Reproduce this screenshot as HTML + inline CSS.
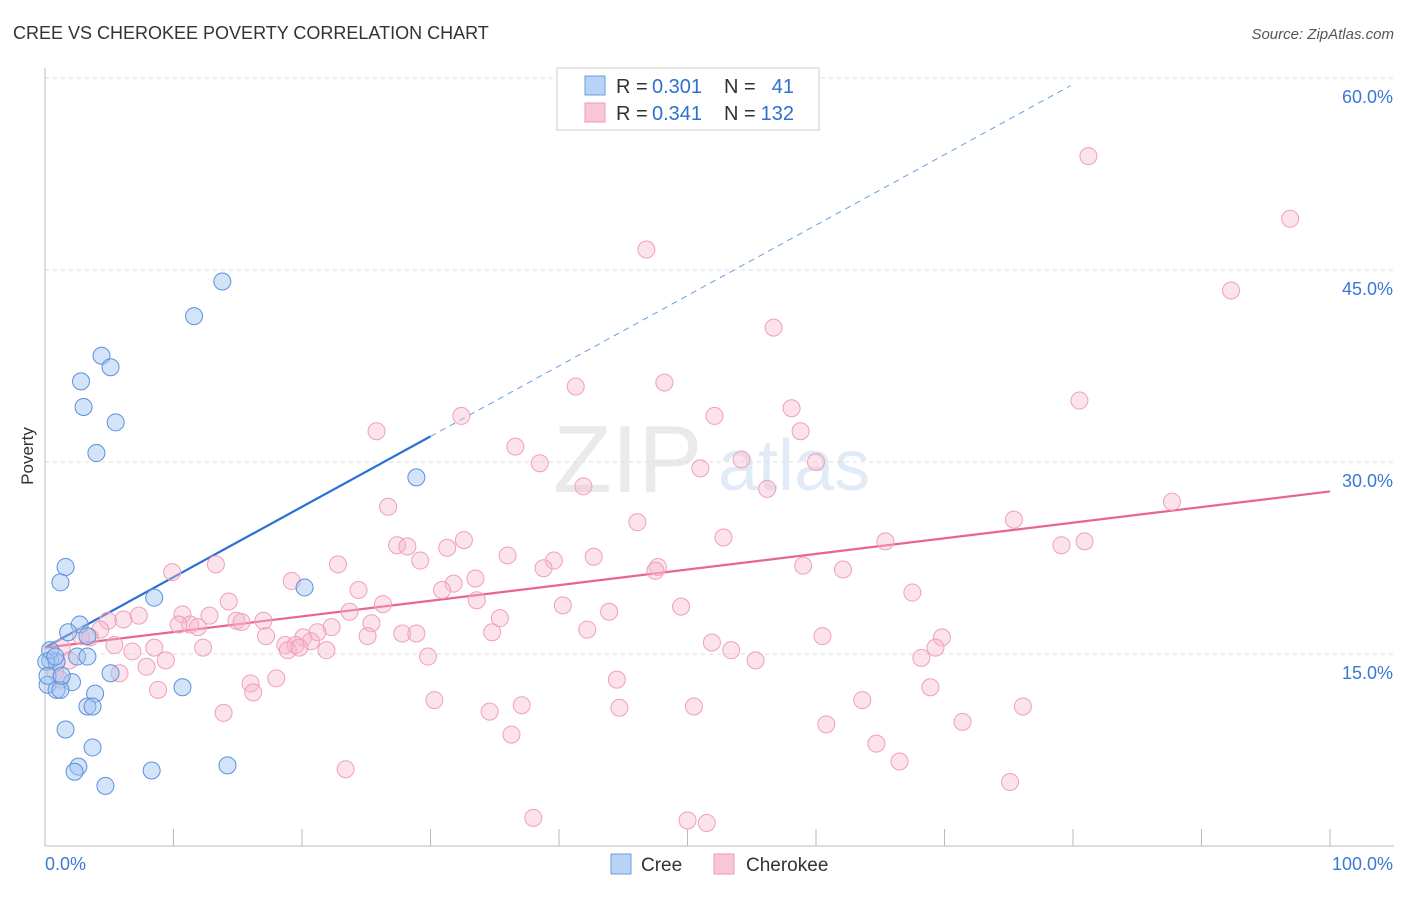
<!DOCTYPE html>
<html><head><meta charset="utf-8"><style>
body{margin:0;background:#fff;font-family:"Liberation Sans",sans-serif}
svg text{font-family:"Liberation Sans",sans-serif}
</style></head><body>
<svg id="chart" width="1406" height="892" viewBox="0 0 1406 892" xmlns="http://www.w3.org/2000/svg">
<text x="13" y="39" font-size="18" fill="#333">CREE VS CHEROKEE POVERTY CORRELATION CHART</text>
<text x="1394" y="39" font-size="15" fill="#555" text-anchor="end" font-style="italic">Source: ZipAtlas.com</text>
<g opacity="0.3">
<text x="553" y="492" font-size="96" font-family="Liberation Serif" fill="#bbb">ZIP</text>
<text x="718" y="490" font-size="72" fill="#9fc0ea">atlas</text>
</g>
<g id="grid"></g><g id="axes"></g><g id="trends"></g><g id="points"></g>
<text transform="translate(33,456) rotate(-90)" font-size="17" fill="#333" text-anchor="middle">Poverty</text>
<g>
<rect x="557" y="68" width="262" height="62" fill="#fff" stroke="#ccc"/>
<rect x="585" y="76" width="20" height="19" fill="#b8d3f5" stroke="#6a9ee0"/>
<text x="616" y="93" font-size="20" fill="#333">R = </text>
<text x="652" y="93" font-size="20" fill="#2f6fd1">0.301</text>
<text x="724" y="93" font-size="20" fill="#333">N =</text>
<text x="794" y="93" font-size="20" fill="#2f6fd1" text-anchor="end">41</text>
<rect x="585" y="103" width="20" height="19" fill="#f9c6d5" stroke="#ef9ab5"/>
<text x="616" y="120" font-size="20" fill="#333">R = </text>
<text x="652" y="120" font-size="20" fill="#2f6fd1">0.341</text>
<text x="724" y="120" font-size="20" fill="#333">N =</text>
<text x="794" y="120" font-size="20" fill="#2f6fd1" text-anchor="end">132</text>
</g>
<g>
<rect x="611" y="854" width="20" height="20" fill="#b8d3f5" stroke="#6a9ee0"/>
<text x="641" y="871" font-size="19" fill="#333">Cree</text>
<rect x="714" y="854" width="20" height="20" fill="#f9c6d5" stroke="#ef9ab5"/>
<text x="746" y="871" font-size="19" fill="#333">Cherokee</text>
</g>
</svg>
<script>
const yTicks=[15,30,45,60];
const yTickLabels=["15.0%","30.0%","45.0%","60.0%"];
const xTicks=[0,10,20,30,40,50,60,70,80,90,100];
const creeX=[13.8,11.6,4.4,5.1,2.8,3.0,5.5,4.0,28.9,1.6,1.2,20.2,8.5,2.7,1.8,3.3,0.4,0.9,0.1,2.5,3.3,5.1,2.1,0.2,0.9,1.2,3.9,3.3,3.7,10.7,1.6,3.7,2.6,2.3,8.3,14.2,4.7,0.2,1.3,0.4,0.8];
const creeY=[44.1,41.4,38.3,37.4,36.3,34.3,33.1,30.7,28.8,21.8,20.6,20.2,19.4,17.3,16.7,16.4,14.5,14.4,14.4,14.8,14.8,13.5,12.8,12.6,12.2,12.2,11.9,10.9,10.9,12.4,9.1,7.7,6.2,5.8,5.9,6.3,4.7,13.3,13.3,15.3,14.8];
const cherX=[81.2,96.9,46.8,92.3,56.7,48.2,41.3,80.5,58.1,52.1,32.4,25.8,58.8,36.6,38.5,54.2,60.0,51.0,41.9,56.2,26.7,87.7,75.4,46.1,52.8,32.6,27.4,28.2,79.1,80.9,65.4,31.3,36.0,42.7,39.6,29.2,22.8,38.8,47.7,47.5,59.0,62.1,13.3,9.9,19.2,33.5,31.8,30.9,24.4,67.5,33.6,14.3,26.3,40.3,49.5,43.9,7.3,10.7,23.7,35.4,4.9,6.1,12.8,11.3,14.9,15.3,17.0,10.4,11.9,22.3,25.4,27.8,34.8,28.9,42.2,17.2,20.1,21.2,20.7,4.3,2.8,3.5,18.7,19.5,18.9,21.9,19.8,25.1,60.5,69.8,69.3,51.9,12.3,8.5,5.4,6.8,53.4,55.3,68.2,29.8,9.4,7.9,5.8,18.0,16.0,44.5,68.9,8.8,16.2,30.3,63.6,13.9,34.6,37.1,44.7,50.5,76.1,71.4,60.8,36.3,64.7,66.5,23.4,75.1,38.0,50.0,51.5,1.3,0.8,1.2,1.9];
const cherY=[53.9,49.0,46.6,43.4,40.5,36.2,35.9,34.8,34.2,33.6,33.6,32.4,32.4,31.2,29.9,30.2,30.0,29.5,28.1,27.9,26.5,26.9,25.5,25.3,24.1,23.9,23.5,23.4,23.5,23.8,23.8,23.3,22.7,22.6,22.3,22.3,22.0,21.7,21.8,21.5,21.9,21.6,22.0,21.4,20.7,20.9,20.5,20.0,20.0,19.8,19.2,19.1,18.9,18.8,18.7,18.3,18.0,18.1,18.3,17.8,17.6,17.7,18.0,17.3,17.6,17.5,17.6,17.3,17.1,17.1,17.4,16.6,16.7,16.6,16.9,16.4,16.3,16.7,16.0,16.9,16.4,16.3,15.7,15.7,15.3,15.3,15.5,16.4,16.4,16.3,15.5,15.9,15.5,15.5,15.7,15.2,15.3,14.5,14.7,14.8,14.5,14.0,13.5,13.1,12.7,13.0,12.4,12.2,12.0,11.4,11.4,10.4,10.5,11.0,10.8,10.9,10.9,9.7,9.5,8.7,8.0,6.6,6.0,5.0,2.2,2.0,1.8,15.5,13.6,13.0,14.5];
const creeTrend=[15.5,32.0];
const creeTrendEnd=[79.8,59.4];
const cherTrend=[15.5,27.7];

const X0=45,X1=1330,Y0=846,Y60=78;
const sx=v=>X0+(X1-X0)*v/100;
const sy=v=>Y0-(Y0-Y60)*v/60;
const NS="http://www.w3.org/2000/svg";
function mk(tag,attrs,parent){const e=document.createElementNS(NS,tag);for(const k in attrs)e.setAttribute(k,attrs[k]);document.getElementById(parent).appendChild(e);return e;}

yTicks.forEach((t,i)=>{
  const l=mk('line',{x1:X0,x2:1394,y1:sy(t),y2:sy(t),stroke:'#ddd','stroke-dasharray':'4,4'},'grid');
  
  
  const tx=mk('text',{x:1393,y:sy(t)+25,'font-size':18,fill:'#3a78d8','text-anchor':'end'},'axes');
  tx.textContent=yTickLabels[i];
  
  
});
const ya=mk('line',{x1:X0,x2:X0,y1:68,y2:Y0,stroke:'#bbb'},'axes');


const xa=mk('line',{x1:X0,x2:1394,y1:Y0,y2:Y0,stroke:'#bbb'},'axes');


xTicks.forEach(t=>{
  const l=mk('line',{x1:sx(t),x2:sx(t),y1:Y0,y2:Y0-17,stroke:'#bbb'},'axes');
  
  
});
const xl0=mk('text',{x:45,y:870,'font-size':18,fill:'#3a78d8'},'axes');xl0.textContent='0.0%';


const xl1=mk('text',{x:1393,y:870,'font-size':18,fill:'#3a78d8','text-anchor':'end'},'axes');xl1.textContent='100.0%';



cherX.forEach((v,i)=>{
  const c=mk('circle',{cx:sx(v),cy:sy(cherY[i]),r:8.5,fill:'rgba(248,182,202,0.4)',stroke:'#f0a0ba','stroke-width':1},'points');
  
  
});
creeX.forEach((v,i)=>{
  const c=mk('circle',{cx:sx(v),cy:sy(creeY[i]),r:8.5,fill:'rgba(160,196,240,0.45)',stroke:'#5b91dc','stroke-width':1},'points');
  
  
});
const t1=mk('line',{x1:sx(0),y1:sy(creeTrend[0]),x2:sx(30),y2:sy(creeTrend[1]),stroke:'#2a6fd6','stroke-width':2.2},'trends');


const t2=mk('line',{x1:sx(30),y1:sy(creeTrend[1]),x2:sx(creeTrendEnd[0]),y2:sy(creeTrendEnd[1]),stroke:'#6a9ee0','stroke-width':1,'stroke-dasharray':'6,5'},'trends');


const t3=mk('line',{x1:sx(0),y1:sy(cherTrend[0]),x2:sx(100),y2:sy(cherTrend[1]),stroke:'#e8658f','stroke-width':2.2},'trends');


</script>
</body></html>
